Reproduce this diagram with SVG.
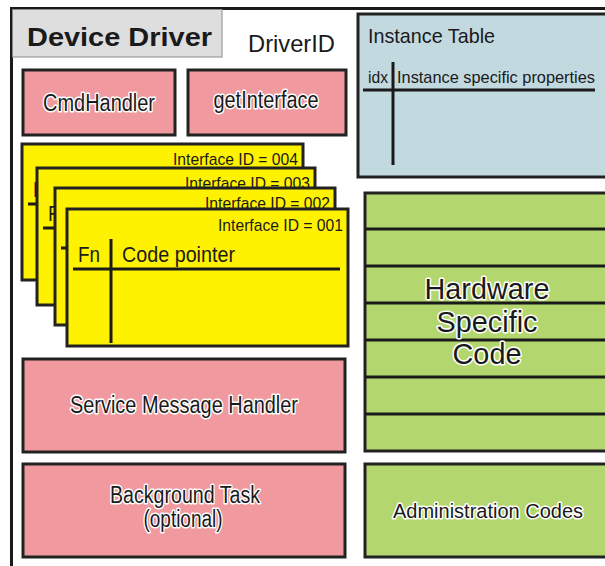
<svg xmlns="http://www.w3.org/2000/svg" width="605" height="566" viewBox="0 0 605 566">
  <style>
    text { font-family: "Liberation Sans", Arial, sans-serif; fill: #1a1a1a; }
    .box { stroke: #222; stroke-width: 3; }
    .pink { fill: #f09aa0; }
    .green { fill: #b3d66e; }
    .blue { fill: #c3d9e0; }
    .yellow { fill: #fff200; }
    .halo { stroke: #ffffff; stroke-width: 3; paint-order: stroke; stroke-linejoin: round; }
    .rule { stroke: #1a1a1a; stroke-width: 3; fill: none; }
    .lbl { font-size: 23px; text-anchor: middle; }
    .card-id { font-size: 17px; text-anchor: end; }
  </style>
  <defs>
    <!-- one interface table card: Fn / Code pointer columns -->
    <g id="card-body">
      <line class="rule" x1="6" y1="60" x2="273" y2="60"/>
      <line class="rule" x1="44" y1="30" x2="44" y2="134"/>
      <text x="11" y="53" font-size="22" textLength="22" lengthAdjust="spacingAndGlyphs">Fn</text>
      <text x="55" y="53" font-size="22" textLength="113" lengthAdjust="spacingAndGlyphs">Code pointer</text>
    </g>
  </defs>

  <!-- outer frame -->
  <g id="frame">
    <rect x="11.5" y="8.5" width="610" height="570" fill="#ffffff" stroke="#1a1a1a" stroke-width="3"/>
    <rect x="12.5" y="9.5" width="209.5" height="47.5" fill="#dedede" stroke="#8a8a8a" stroke-width="1"/>
    <text x="27" y="46" font-size="26" font-weight="bold" textLength="185" lengthAdjust="spacingAndGlyphs">Device Driver</text>
    <text x="248" y="52" font-size="24" textLength="87" lengthAdjust="spacingAndGlyphs">DriverID</text>
  </g>

  <g id="cmd-handler">
    <rect class="box pink" x="23" y="70" width="152" height="65"/>
    <text class="lbl halo" x="99" y="111" textLength="112" lengthAdjust="spacingAndGlyphs">CmdHandler</text>
  </g>

  <g id="get-interface">
    <rect class="box pink" x="188" y="70" width="158" height="65"/>
    <text class="lbl halo" x="266" y="108" textLength="105" lengthAdjust="spacingAndGlyphs">getInterface</text>
  </g>

  <g id="instance-table">
    <rect class="box blue" x="358" y="14" width="249" height="163"/>
    <text x="368" y="43" font-size="21" textLength="127" lengthAdjust="spacingAndGlyphs">Instance Table</text>
    <text x="368" y="83" font-size="16" textLength="20" lengthAdjust="spacingAndGlyphs">idx</text>
    <text x="397" y="83" font-size="17" textLength="198" lengthAdjust="spacingAndGlyphs">Instance specific properties</text>
    <line class="rule" x1="363" y1="90" x2="595" y2="90"/>
    <line class="rule" x1="393" y1="62" x2="393" y2="165"/>
  </g>

  <!-- stacked interface cards, back to front -->
  <g id="interface-004" transform="translate(22,144)">
    <rect class="box yellow" x="0" y="0" width="281" height="136"/>
    <text class="card-id" x="276" y="21" textLength="125" lengthAdjust="spacingAndGlyphs">Interface ID = 004</text>
    <use href="#card-body"/>
  </g>
  <g id="interface-003" transform="translate(37,168)">
    <rect class="box yellow" x="0" y="0" width="278" height="137"/>
    <text class="card-id" x="273" y="21" textLength="125" lengthAdjust="spacingAndGlyphs">Interface ID = 003</text>
    <use href="#card-body"/>
  </g>
  <g id="interface-002" transform="translate(55,188)">
    <rect class="box yellow" x="0" y="0" width="280" height="137"/>
    <text class="card-id" x="275" y="21" textLength="125" lengthAdjust="spacingAndGlyphs">Interface ID = 002</text>
    <use href="#card-body"/>
  </g>
  <g id="interface-001" transform="translate(67,209)">
    <rect class="box yellow" x="0" y="0" width="281" height="137"/>
    <text class="card-id" x="276" y="22" textLength="125" lengthAdjust="spacingAndGlyphs">Interface ID = 001</text>
    <use href="#card-body"/>
  </g>

  <g id="service-message-handler">
    <rect class="box pink" x="23" y="359" width="322" height="93"/>
    <text class="lbl halo" x="184" y="413" textLength="228" lengthAdjust="spacingAndGlyphs">Service Message Handler</text>
  </g>

  <g id="background-task">
    <rect class="box pink" x="23" y="464" width="322" height="93"/>
    <text class="lbl halo" x="185" y="503" textLength="150" lengthAdjust="spacingAndGlyphs">Background Task</text>
    <text class="lbl halo" x="183" y="527" textLength="79" lengthAdjust="spacingAndGlyphs">(optional)</text>
  </g>

  <g id="hardware-specific-code">
    <rect class="box green" x="365" y="193" width="242" height="258"/>
    <path class="rule" d="M365 229H607M365 266H607M365 303H607M365 340H607M365 377H607M365 414H607"/>
    <g font-size="29" text-anchor="middle">
      <text class="halo" x="487" y="299" textLength="125" lengthAdjust="spacingAndGlyphs">Hardware</text>
      <text class="halo" x="487" y="332" textLength="101" lengthAdjust="spacingAndGlyphs">Specific</text>
      <text class="halo" x="487" y="364" textLength="69" lengthAdjust="spacingAndGlyphs">Code</text>
    </g>
  </g>

  <g id="administration-codes">
    <rect class="box green" x="365" y="464" width="242" height="93"/>
    <text class="halo" x="488" y="518" font-size="20" text-anchor="middle">Administration Codes</text>
  </g>

  <!-- no connectors in this layout -->
  <g id="connectors"/>
</svg>
